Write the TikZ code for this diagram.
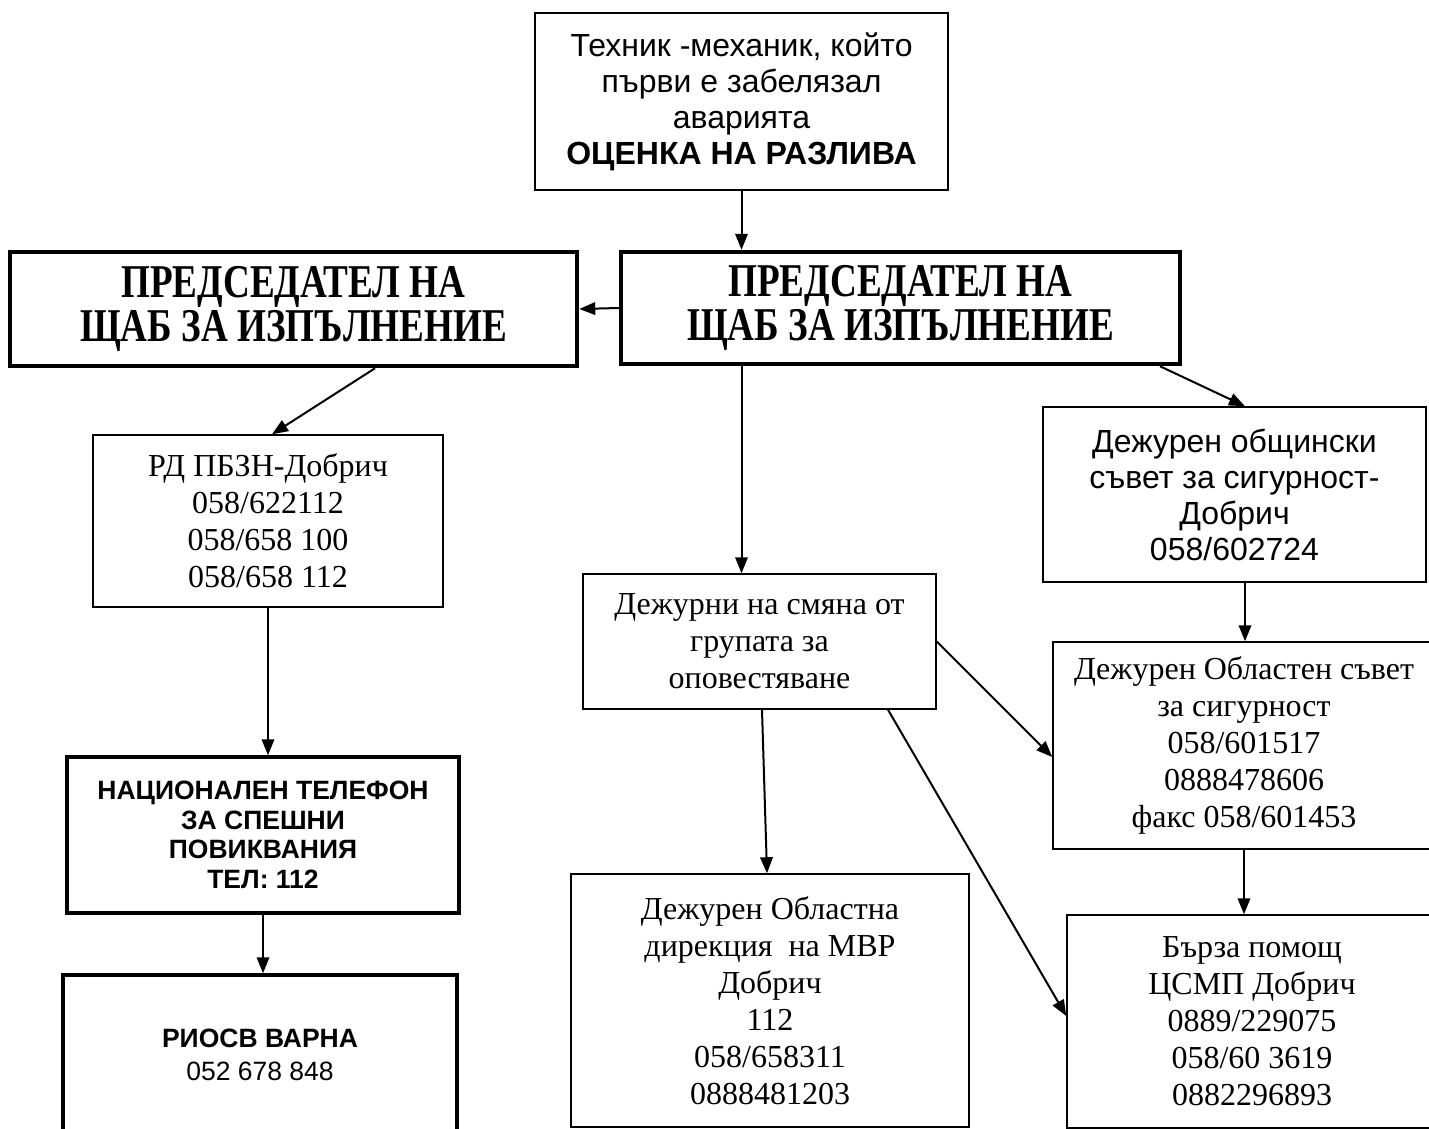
\documentclass[tikz,border=0pt]{standalone}
\usepackage{fontspec}
\setmainfont{Liberation Serif}
\setsansfont{Liberation Sans}
\newfontface\chairfont[FakeStretch=0.79]{Liberation Serif Bold}
\usetikzlibrary{arrows.meta,calc}
\tikzset{>={Triangle[length=16pt,width=12.5pt]}}
\tikzset{
    box/.style={draw, line width=1.5pt, align=center, inner sep=0pt},
    chairbox/.style={box, line width=4.5pt, font=\chairfont\fontsize{47}{44}\selectfont},
    alertbox/.style={box, line width=3.5pt},
    serif/.style={font=\fontsize{32}{37}\selectfont},
    sans/.style={font=\sffamily\fontsize{32}{36}\selectfont},
    link/.style={->, line width=2pt}
}

\begin{document}
\begin{tikzpicture}[x=1pt, y=-1pt, line join=miter]
    \clip (0,0) rectangle (1429,1129);
    \node[box, sans, minimum width=413pt, minimum height=177pt] (tech) at (741.5,101.5)
        {Техник -механик, който\\първи е забелязал\\аварията\\\textbf{ОЦЕНКА НА РАЗЛИВА}};
    \node[chairbox, minimum width=567pt, minimum height=114pt] (chair1) at (293.5,309)
        {ПРЕДСЕДАТЕЛ НА\\ЩАБ ЗА ИЗПЪЛНЕНИЕ};
    \node[chairbox, minimum width=559pt, minimum height=112pt] (chair2) at (900.5,308)
        {ПРЕДСЕДАТЕЛ НА\\ЩАБ ЗА ИЗПЪЛНЕНИЕ};
    \node[box, serif, minimum width=350pt, minimum height=172pt] (rd) at (268,521)
        {РД ПБЗН-Добрич\\058/622112\\058/658 100\\058/658 112};
    \node[box, sans, minimum width=383pt, minimum height=175pt] (obsht) at (1234.5,494.5)
        {Дежурен общински\\съвет за сигурност-\\Добрич\\058/602724};
    \node[box, serif, minimum width=353pt, minimum height=135pt] (shift) at (759.5,641.5)
        {Дежурни на смяна от\\групата за\\оповестяване};
    \node[box, serif, minimum width=382pt, minimum height=207pt] (obl) at (1244,745.5)
        {Дежурен Областен съвет\\за сигурност\\058/601517\\0888478606\\факс 058/601453};
    \node[alertbox, font=\sffamily\bfseries\fontsize{26.5}{29.5}\selectfont,
        minimum width=392pt, minimum height=156pt] (nat) at (263,835)
        {НАЦИОНАЛЕН ТЕЛЕФОН\\ЗА СПЕШНИ\\ПОВИКВАНИЯ\\ТЕЛ: 112};
    \node[alertbox, font=\sffamily\fontsize{26.5}{33}\selectfont,
        minimum width=394pt, minimum height=160pt] (riosv) at (260,1055)
        {\textbf{РИОСВ ВАРНА}\\052 678 848};
    \node[box, serif, minimum width=398pt, minimum height=253pt] (mvr) at (770,1000.5)
        {Дежурен Областна\\дирекция~ на МВР\\Добрич\\112\\058/658311\\0888481203};
    \node[box, serif, minimum width=370pt, minimum height=213pt] (ambul) at (1252,1021.5)
        {Бърза помощ\\ЦСМП Добрич\\0889/229075\\058/60 3619\\0882296893};

    \draw[link] (tech.south) -- (tech.south |- chair2.north);
    \draw[link] (chair2.west) -- (chair1.east);
    \draw[link] ([xshift=81.5pt]chair1.south) -- ([xshift=4pt]rd.north);
    \draw[link] (chair2.south -| tech.south) -- (shift.north -| tech.south);
    \draw[link] ([xshift=259.5pt]chair2.south) -- ([xshift=10.5pt]obsht.north);
    \draw[link] (rd.south) -- (rd.south |- nat.north);
    \draw[link] (nat.south) -- (nat.south |- riosv.north);
    \draw[link] ([xshift=10.5pt]obsht.south) -- ([xshift=10.5pt]obsht.south |- obl.north);
    \draw[link] (shift.east) -- ([yshift=-11.5pt]obl.west);
    \draw[link] ([xshift=2.5pt]shift.south) -- ([xshift=-3pt]mvr.north);
    \draw[link] ([xshift=128.5pt]shift.south) -- ([yshift=5.5pt]ambul.west);
    \draw[link] (obl.south) -- (obl.south |- ambul.north);
\end{tikzpicture}
\end{document}
